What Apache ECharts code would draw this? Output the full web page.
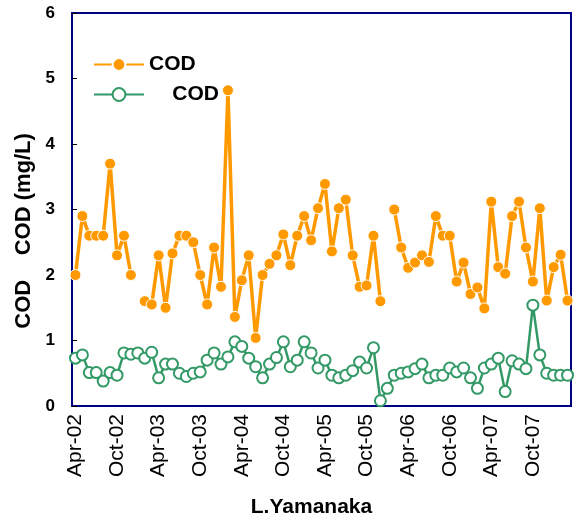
<!DOCTYPE html>
<html>
<head>
<meta charset="utf-8">
<script src="https://cdn.jsdelivr.net/npm/echarts@6/dist/echarts.min.js"></script>
<style>html,body{margin:0;padding:0;background:#fff;}#c{width:576px;height:523px;}</style>
</head>
<body>
<div id="c"></div>
<script>
var categories = [
 "Apr-02","May-02","Jun-02","Jul-02","Aug-02","Sep-02","Oct-02","Nov-02","Dec-02","Jan-03","Feb-03","Mar-03",
 "Apr-03","May-03","Jun-03","Jul-03","Aug-03","Sep-03","Oct-03","Nov-03","Dec-03","Jan-04","Feb-04","Mar-04",
 "Apr-04","May-04","Jun-04","Jul-04","Aug-04","Sep-04","Oct-04","Nov-04","Dec-04","Jan-05","Feb-05","Mar-05",
 "Apr-05","May-05","Jun-05","Jul-05","Aug-05","Sep-05","Oct-05","Nov-05","Dec-05","Jan-06","Feb-06","Mar-06",
 "Apr-06","May-06","Jun-06","Jul-06","Aug-06","Sep-06","Oct-06","Nov-06","Dec-06","Jan-07","Feb-07","Mar-07",
 "Apr-07","May-07","Jun-07","Jul-07","Aug-07","Sep-07","Oct-07","Nov-07","Dec-07","Jan-08","Feb-08","Mar-08"
];
var codOrange = [
 2.0,2.9,2.6,2.6,2.6,3.7,2.3,2.6,2.0,null,1.6,1.55,
 2.3,1.5,2.33,2.6,2.6,2.5,2.0,1.55,2.42,1.82,4.82,1.36,
 1.92,2.3,1.04,2.0,2.17,2.3,2.62,2.15,2.6,2.9,2.53,3.02,
 3.39,2.36,3.02,3.15,2.3,1.82,1.84,2.6,1.6,null,3.0,2.42,
 2.11,2.19,2.3,2.2,2.9,2.6,2.6,1.9,2.19,1.71,1.81,1.49,
 3.12,2.12,2.02,2.9,3.12,2.42,1.9,3.02,1.61,2.12,2.31,1.61
];
var codGreen = [
 0.73,0.78,0.51,0.51,0.38,0.51,0.47,0.81,0.79,0.81,0.73,0.82,
 0.43,0.64,0.64,0.50,0.45,0.50,0.52,0.70,0.81,0.64,0.75,0.98,
 0.91,0.73,0.60,0.43,0.64,0.74,0.98,0.60,0.70,0.98,0.81,0.58,
 0.70,0.47,0.43,0.47,0.54,0.67,0.58,0.89,0.08,0.27,0.47,0.50,
 0.52,0.57,0.64,0.43,0.47,0.47,0.58,0.52,0.58,0.43,0.27,0.58,
 0.64,0.73,0.22,0.69,0.64,0.57,1.54,0.78,0.50,0.47,0.47,0.47
];
var yTicks = [0,1,2,3,4,5,6];
var seriesNames = ["COD", "    COD"];

var chart = echarts.init(document.getElementById('c'), null, {renderer:'canvas'});
var font = "'Liberation Sans', Arial, sans-serif";
chart.setOption({
  animation: false,
  textStyle: {fontFamily: font},
  grid: {left: 72, right: 5, top: 13, bottom: 112, show: true, borderColor: '#000080', borderWidth: 2, backgroundColor: '#fff'},
  legend: {
    left: 88, top: 49, orient: 'vertical', itemWidth: 50, itemHeight: 16, itemGap: 9,
    data: seriesNames,
    textStyle: {fontSize: 21, fontWeight: 'bold', color: '#000', fontFamily: font}
  },
  xAxis: {
    type: 'category', data: categories, boundaryGap: true,
    name: 'L.Yamanaka', nameLocation: 'middle', nameGap: 91,
    nameTextStyle: {fontSize: 21, fontWeight: 'bold', color: '#000', padding: [0, 20, 0, 0]},
    axisLine: {lineStyle: {color: '#000080', width: 2}},
    axisTick: {inside: true, length: 6, interval: 5, lineStyle: {color: '#000', width: 1}},
    axisLabel: {rotate: 90, interval: 5, fontSize: 21, color: '#000', margin: 8},
    splitLine: {show: false}
  },
  yAxis: {
    type: 'value', min: yTicks[0], max: yTicks[yTicks.length-1], interval: 1,
    name: 'COD    COD (mg/L)       ', nameLocation: 'middle', nameGap: 33,
    nameTextStyle: {fontSize: 22, fontWeight: 'bold', color: '#000'},
    axisLine: {show: true, lineStyle: {color: '#000080', width: 2}},
    axisTick: {show: true, inside: true, length: 5, lineStyle: {color: '#000'}},
    axisLabel: {fontSize: 17, fontWeight: 'bold', color: '#000', margin: 17},
    splitLine: {show: false}
  },
  series: [
    {
      name: seriesNames[0], type: 'line', data: codOrange, connectNulls: false,
      symbol: 'circle', symbolSize: 11, showAllSymbol: true,
      lineStyle: {color: '#FF9900', width: 3.5},
      itemStyle: {color: '#FF9900', borderColor: '#fff', borderWidth: 1},
      z: 3
    },
    {
      name: seriesNames[1], type: 'line', data: codGreen,
      symbol: 'emptyCircle', symbolSize: 11, showAllSymbol: true,
      lineStyle: {color: '#339966', width: 2.5},
      itemStyle: {color: '#339966', borderColor: '#339966', borderWidth: 1.5},
      z: 2
    }
  ]
});
</script>
</body>
</html>
